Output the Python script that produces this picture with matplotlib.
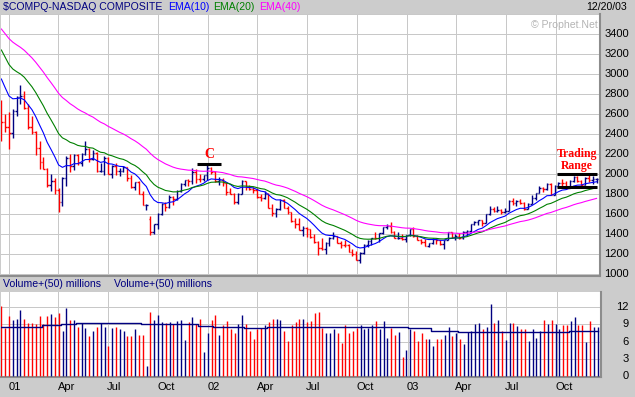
import numpy as np
import pandas as pd
import matplotlib
matplotlib.use("Agg")
import matplotlib.pyplot as plt
from matplotlib.collections import LineCollection

# ---------------- data (weekly bars, week ending Fridays) ----------------
first_week = "2000-12-22"
opens = [2640, 2520, 2474, 2410, 2630, 2770, 2780, 2660, 2470, 2425,
         2260, 2118, 2050, 1890, 1930, 1840, 1720, 1960, 2160, 2076,
         2190, 2107, 2200, 2250, 2150, 2215, 2030, 2035, 2160, 2004,
         2085, 2029, 2030, 2066, 1956, 1867, 1917, 1805, 1688, 1555,
         1423, 1499, 1605, 1703, 1671, 1769, 1746, 1828, 1899, 1941,
         1931, 2021, 1953, 1946, 1987, 2059, 2022, 1930, 1938, 1912,
         1818, 1805, 1725, 1802, 1930, 1868, 1852, 1845, 1770, 1756,
         1796, 1663, 1613, 1652, 1741, 1662, 1616, 1535, 1505, 1441,
         1463, 1448, 1374, 1320, 1262, 1247, 1306, 1361, 1380, 1315,
         1295, 1292, 1222, 1199, 1140, 1210, 1287, 1331, 1360, 1359,
         1411, 1468, 1479, 1422, 1362, 1363, 1348, 1387, 1448, 1376,
         1342, 1321, 1283, 1310, 1349, 1338, 1305, 1341, 1422, 1370,
         1383, 1358, 1425, 1434, 1502, 1520, 1538, 1510, 1596, 1646,
         1627, 1645, 1625, 1634, 1733, 1708, 1731, 1715, 1653, 1702,
         1765, 1810, 1858, 1855, 1905, 1793, 1881, 1915, 1912, 1865,
         1932, 1970, 1930, 1893, 1960, 1937, 1949]
highs = [2740, 2600, 2620, 2650, 2780, 2892, 2830, 2700, 2580, 2430,
         2330, 2175, 2060, 2000, 1960, 1860, 1970, 2180, 2200, 2200,
         2200, 2210, 2330, 2260, 2240, 2220, 2110, 2180, 2170, 2090,
         2110, 2060, 2080, 2070, 1990, 1920, 1930, 1830, 1700, 1580,
         1500, 1610, 1710, 1720, 1790, 1780, 1840, 1910, 1945, 1950,
         2060, 2050, 2000, 1990, 2098, 2070, 2030, 1970, 1960, 1920,
         1860, 1810, 1810, 1940, 1935, 1890, 1870, 1860, 1800, 1830,
         1810, 1700, 1660, 1750, 1750, 1680, 1620, 1560, 1560, 1480,
         1470, 1450, 1400, 1330, 1360, 1320, 1370, 1425, 1385, 1330,
         1340, 1300, 1250, 1230, 1220, 1300, 1340, 1365, 1420, 1415,
         1470, 1500, 1521, 1430, 1420, 1400, 1390, 1450, 1467, 1390,
         1350, 1350, 1310, 1360, 1350, 1340, 1345, 1425, 1425, 1400,
         1410, 1430, 1440, 1505, 1530, 1540, 1540, 1600, 1680, 1670,
         1680, 1650, 1660, 1740, 1760, 1740, 1750, 1720, 1710, 1790,
         1815, 1880, 1870, 1910, 1906, 1890, 1925, 1955, 1930, 1945,
         1980, 1980, 1940, 1970, 1990, 1980, 1960]
lows = [2332, 2420, 2251, 2360, 2580, 2700, 2650, 2450, 2400, 2190,
        2050, 2050, 1870, 1830, 1800, 1619, 1680, 1880, 2020, 2040,
        2090, 2080, 2190, 2120, 2140, 2020, 2020, 1990, 2000, 1960,
        1990, 1980, 2020, 1930, 1860, 1840, 1800, 1687, 1640, 1387,
        1400, 1450, 1590, 1630, 1660, 1690, 1740, 1820, 1880, 1880,
        1900, 1910, 1920, 1930, 1940, 2000, 1920, 1890, 1880, 1790,
        1800, 1700, 1700, 1800, 1840, 1840, 1810, 1760, 1730, 1750,
        1660, 1580, 1570, 1640, 1660, 1600, 1520, 1460, 1440, 1380,
        1370, 1360, 1310, 1192, 1240, 1200, 1280, 1350, 1310, 1260,
        1270, 1220, 1180, 1140, 1108, 1200, 1270, 1290, 1350, 1320,
        1400, 1450, 1410, 1360, 1350, 1340, 1320, 1380, 1370, 1340,
        1300, 1280, 1270, 1300, 1300, 1290, 1253, 1340, 1360, 1340,
        1350, 1350, 1390, 1420, 1490, 1490, 1480, 1510, 1590, 1620,
        1620, 1600, 1610, 1630, 1690, 1680, 1700, 1640, 1650, 1700,
        1740, 1810, 1820, 1840, 1790, 1790, 1870, 1880, 1850, 1860,
        1920, 1920, 1865, 1890, 1920, 1900, 1910]
closes = [2517, 2471, 2407, 2626, 2770, 2781, 2660, 2470, 2425, 2262,
          2118, 2053, 1891, 1929, 1840, 1720, 1961, 2163, 2076, 2192,
          2107, 2199, 2251, 2149, 2215, 2028, 2035, 2161, 2004, 2085,
          2029, 2029, 2066, 1956, 1867, 1917, 1805, 1688, 1695, 1423,
          1499, 1605, 1703, 1671, 1769, 1746, 1828, 1899, 1941, 1931,
          2021, 1953, 1946, 1987, 2059, 2022, 1930, 1938, 1912, 1818,
          1805, 1725, 1802, 1930, 1868, 1852, 1845, 1770, 1756, 1796,
          1663, 1613, 1652, 1741, 1662, 1616, 1535, 1505, 1441, 1463,
          1448, 1374, 1320, 1262, 1247, 1306, 1361, 1380, 1315, 1295,
          1292, 1222, 1199, 1140, 1210, 1287, 1331, 1360, 1359, 1411,
          1468, 1479, 1422, 1362, 1363, 1348, 1387, 1448, 1376, 1342,
          1321, 1283, 1310, 1349, 1338, 1305, 1341, 1422, 1370, 1383,
          1358, 1425, 1434, 1502, 1520, 1538, 1510, 1596, 1646, 1627,
          1645, 1625, 1634, 1733, 1708, 1731, 1715, 1653, 1702, 1765,
          1810, 1858, 1855, 1905, 1793, 1881, 1915, 1912, 1865, 1932,
          1970, 1930, 1893, 1960, 1937, 1949, 1951]
prev_close = 2653          # close of the week before the first bar
volumes = [12.2, 8.4, 10.4, 9.7, 10.0, 11.5, 9.9, 9.2, 9.3, 9.0,
           10.4, 9.0, 10.4, 10.8, 10.3, 10.9, 7.9, 11.8, 9.7, 9.8,
           8.6, 9.2, 8.4, 6.9, 7.9, 8.6, 9.2, 8.6, 5.3, 8.4,
           8.6, 8.1, 7.8, 6.9, 6.9, 8.2, 7.1, 7.1, 1.8, 11.2,
           9.8, 10.6, 9.4, 9.2, 9.4, 9.1, 9.5, 9.7, 6.2, 9.4,
           10.3, 9.1, 10.0, 4.2, 7.5, 9.8, 10.6, 7.2, 8.8, 9.6,
           8.1, 7.5, 9.0, 10.6, 9.1, 7.8, 6.4, 8.1, 8.4, 8.8,
           9.4, 10.0, 10.0, 9.7, 7.8, 6.1, 8.8, 9.4, 10.0, 9.9,
           9.4, 9.6, 10.9, 11.2, 8.4, 7.4, 7.5, 8.1, 7.4, 5.7,
           8.8, 7.5, 7.9, 8.4, 8.9, 8.2, 8.4, 8.8, 9.6, 8.1,
           9.6, 6.6, 8.4, 7.1, 7.6, 3.4, 4.6, 8.2, 7.9, 6.1,
           7.5, 6.5, 6.4, 5.2, 6.5, 6.5, 7.2, 8.5, 6.9, 7.5,
           6.5, 5.5, 7.6, 7.9, 9.0, 9.2, 8.1, 8.5, 12.5, 9.2,
           9.7, 7.9, 6.2, 9.2, 9.3, 8.7, 8.1, 8.1, 6.1, 8.1,
           6.6, 7.9, 9.7, 9.1, 9.7, 9.0, 8.1, 8.8, 8.8, 9.5,
           10.2, 8.8, 8.8, 5.9, 9.5, 8.6, 8.6]
volume_avg50 = [8.5, 8.5, 8.5, 8.5, 8.5, 8.5, 8.5, 8.5, 8.5, 8.5,
                8.5, 8.9, 8.9, 8.9, 8.9, 8.9, 9.1, 9.1, 9.1, 9.1,
                9.3, 9.3, 9.3, 9.3, 9.3, 9.3, 9.3, 9.3, 9.3, 9.3,
                9.3, 9.3, 9.3, 9.3, 9.3, 9.3, 9.3, 9.1, 9.1, 9.1,
                9.1, 9.1, 9.1, 9.1, 9.1, 9.1, 9.1, 9.1, 9.1, 9.1,
                9.1, 9.1, 8.7, 8.7, 8.7, 8.7, 8.6, 8.6, 8.6, 8.6,
                8.6, 8.6, 8.6, 8.6, 8.4, 8.4, 8.4, 8.4, 8.4, 8.4,
                8.5, 8.5, 8.5, 8.5, 8.5, 8.5, 8.5, 8.5, 8.5, 8.5,
                8.5, 8.5, 8.5, 8.6, 8.6, 8.6, 8.6, 8.6, 8.6, 8.6,
                8.6, 8.6, 8.6, 8.6, 8.5, 8.5, 8.5, 8.5, 8.5, 8.5,
                8.5, 8.5, 8.5, 8.5, 8.5, 8.5, 8.5, 8.4, 8.4, 8.4,
                8.4, 8.4, 8.4, 7.9, 7.9, 7.9, 7.9, 7.9, 7.9, 7.9,
                7.6, 7.6, 7.6, 7.6, 7.6, 7.6, 7.6, 7.6, 7.6, 7.6,
                7.6, 7.6, 7.6, 7.6, 7.6, 7.6, 7.6, 7.6, 7.6, 7.6,
                7.6, 7.6, 7.6, 7.6, 7.6, 7.6, 7.6, 7.6, 7.6, 7.9,
                7.9, 7.9, 7.9, 7.9, 7.9, 7.9, 7.9]
ema_periods = [10, 20, 40]
ema_start = [2950, 3240, 3450]     # EMA levels at the first bar
ema_colors = ["#0000FF", "#008000", "#FF00FF"]

month_starts = ["2001-01-01", "2001-04-01", "2001-07-01", "2001-10-01",
                "2002-01-01", "2002-04-01", "2002-07-01", "2002-10-01",
                "2003-01-01", "2003-04-01", "2003-07-01", "2003-10-01"]
month_labels = ["01", "Apr", "Jul", "Oct", "02", "Apr", "Jul", "Oct",
                "03", "Apr", "Jul", "Oct"]
price_ticks = [1000, 1200, 1400, 1600, 1800, 2000, 2200, 2400, 2600,
               2800, 3000, 3200, 3400]
volume_ticks = [0, 3, 6, 9, 12]

# ---------------- derived ----------------
n = len(closes)
x = np.arange(n)
O, H, L, C = map(np.array, (opens, highs, lows, closes))
prevc = np.concatenate([[prev_close], C[:-1]])
up = C >= prevc
RED, NAVY = "#FF0000", "#000080"
cols = [NAVY if u else RED for u in up]

week0_monday = pd.Timestamp(first_week) - pd.Timedelta(days=4)
grid_x = [(pd.Timestamp(d) - week0_monday).days / 7.0 for d in month_starts]

def ema(values, period, start):
    a = 2.0 / (period + 1)
    out = [start]
    for v in values[1:]:
        out.append(out[-1] + a * (v - out[-1]))
    return np.array(out)

# ---------------- figure ----------------
W, Hh = 635, 397
BG = "#CCCCCC"
GRID = "#C8C8C8"
PX = 0.72  # one pixel in points at 100 dpi
fig = plt.figure(figsize=(W / 100, Hh / 100), dpi=100, facecolor=BG)
FONT = "Liberation Sans"

def fx(px):
    return px / W

def fy(py):
    return 1 - py / Hh

XL = (-0.1, 156.9)

# main price panel
ax = fig.add_axes([fx(1), fy(276), fx(600) - fx(1), fy(14) - fy(276)])
ax.set_facecolor("white")
ax.set_xlim(*XL)
ax.set_ylim(980, 3600)
for g in grid_x:
    ax.axvline(g, color=GRID, lw=PX, zorder=0, snap=True)
for p in price_ticks + [3600]:
    ax.axhline(p, color=GRID, lw=PX, zorder=0, snap=True)

segs = []
for i in range(n):
    segs.append([(x[i], L[i]), (x[i], H[i])])
    segs.append([(x[i] - 0.4, O[i]), (x[i], O[i])])
    segs.append([(x[i], C[i]), (x[i] + 0.4, C[i])])
seg_cols = [c for c in cols for _ in range(3)]
ax.add_collection(LineCollection(segs, colors=seg_cols, linewidths=1.0,
                                 snap=True, zorder=3))

for per, st, col in zip(ema_periods, ema_start, ema_colors):
    ax.plot(x, ema(closes, per, st), color=col, lw=0.8, zorder=4)

# annotations
ax.plot([51.4, 57.6], [2100, 2100], color="black", lw=2.2, zorder=5,
        solid_capstyle="butt")
ax.text(54.5, 2190, "C", color="#FF0000", fontsize=10, fontweight="bold",
        family="Liberation Serif", ha="center", va="center", zorder=6)
for yv in (2000, 1870):
    ax.plot([145.7, 156.0], [yv, yv], color="black", lw=2.2, zorder=5,
            solid_capstyle="butt")
ax.text(150.8, 2195, "Trading", color="#FF0000", fontsize=8.5,
        fontweight="bold", family="Liberation Serif", ha="center",
        va="center", zorder=6)
ax.text(150.8, 2078, "Range", color="#FF0000", fontsize=8.5,
        fontweight="bold", family="Liberation Serif", ha="center",
        va="center", zorder=6)

ax.set_xticks([])
ax.set_yticks([])
for s in ("top", "left"):
    ax.spines[s].set_visible(False)
for s in ("right", "bottom"):
    ax.spines[s].set_color("#8C8C8C")
    ax.spines[s].set_linewidth(1.5)

# volume panel
axv = fig.add_axes([fx(1), fy(377), fx(601) - fx(1), fy(292) - fy(377)])
axv.set_facecolor("white")
axv.set_xlim(*XL)
axv.set_ylim(-0.15, 14.6)
for g in grid_x:
    axv.axvline(g, color=GRID, lw=PX, zorder=0, snap=True)
for v in volume_ticks[1:]:
    axv.axhline(v, color=GRID, lw=PX, zorder=0, snap=True)
axv.vlines(x, 0, volumes, colors=cols, linewidth=1.0, snap=True, zorder=3)
axv.step(x, volume_avg50, where="mid", color=NAVY, lw=1.0, zorder=4,
         snap=True)
axv.set_xticks([])
axv.set_yticks([])
for s in ("top", "left"):
    axv.spines[s].set_visible(False)
for s in ("right", "bottom"):
    axv.spines[s].set_color("#8C8C8C")
    axv.spines[s].set_linewidth(1.5)

# ---------------- texts ----------------
ts = 7.6
fig.text(fx(3), fy(7.5), r"\$COMPQ-NASDAQ COMPOSITE", color=NAVY,
         fontsize=ts, family=FONT, va="center", ha="left")
fig.text(fx(168), fy(7.5), "EMA(10)", color="#0000FF", fontsize=ts,
         family=FONT, va="center", ha="left")
fig.text(fx(213), fy(7.5), "EMA(20)", color="#008000", fontsize=ts,
         family=FONT, va="center", ha="left")
fig.text(fx(259), fy(7.5), "EMA(40)", color="#FF00FF", fontsize=ts,
         family=FONT, va="center", ha="left")
fig.text(fx(627), fy(7.5), "12/20/03", color="black", fontsize=ts,
         family=FONT, va="center", ha="right")
fig.text(fx(598), fy(25), "\u00a9 Prophet.Net", color="#B4B4B4",
         fontsize=ts, family=FONT, va="center", ha="right")

ls = 8.0
for p in price_ticks:
    ypx = 274 - (p - 1000) / 10.0
    fig.text(fx(629), fy(ypx), str(p), color="black", fontsize=ls,
             family=FONT, va="center", ha="right")

fig.text(fx(3), fy(284), "Volume+(50) millions", color=NAVY, fontsize=ts,
         family=FONT, va="center", ha="left")
fig.text(fx(114), fy(284), "Volume+(50) millions", color=NAVY,
         fontsize=ts, family=FONT, va="center", ha="left")
for v in volume_ticks:
    yv = axv.transData.transform((0, v))[1]
    fig.text(fx(629), yv / Hh, str(v), color="black", fontsize=ls,
             family=FONT, va="center", ha="right")

for g, lab in zip(grid_x, month_labels):
    xpx = ax.transData.transform((g, 0))[0]
    fig.text(xpx / W - fx(0.5), fy(387), lab, color="black", fontsize=ls,
             family=FONT, va="center", ha="left")

fig.savefig("out.png", dpi=100, facecolor=BG)
